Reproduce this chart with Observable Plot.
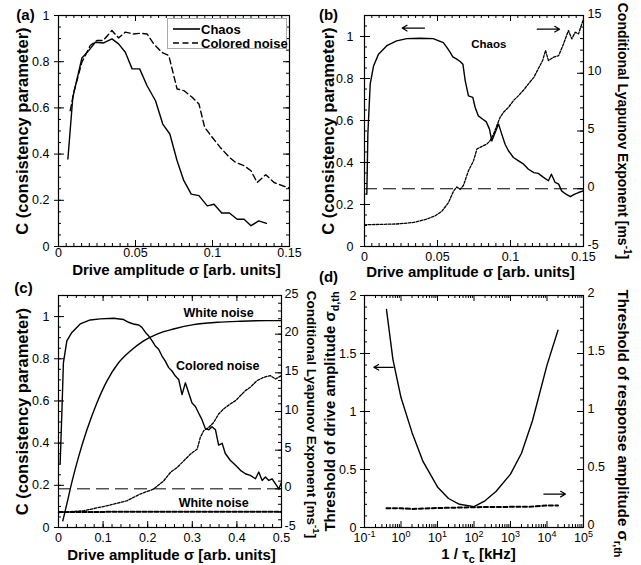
<!DOCTYPE html>
<html><head><meta charset="utf-8">
<script src="https://cdn.jsdelivr.net/npm/d3@7"></script>
<script src="https://cdn.jsdelivr.net/npm/@observablehq/plot@0.6"></script>
<style>
body{margin:0;background:#fff;}
#fig{position:relative;width:641px;height:565px;overflow:hidden;background:#fff;font-family:'Liberation Sans',Arial,Helvetica,sans-serif;}
#fig > svg{position:absolute;}
.leg{position:absolute;left:167px;top:18px;width:118px;height:29px;border:1px solid #aaa;background:#fff;font-weight:bold;font-size:13px;color:#000;}
.leg .row{position:absolute;left:5px;height:14px;display:flex;align-items:center;white-space:nowrap;}
#fig .leg .row svg{position:static;margin-right:1px;display:block;}
</style></head><body><div id="fig"></div>
<script>
// ---------- Panel (a) data ----------
const aChaosSigma = [0.0061,0.0093,0.0152,0.0196,0.0239,0.0293,0.0347,0.039,0.0434,0.0478,0.0527,0.0575,0.063,0.0677,0.0723,0.077,0.0814,0.0862,0.0912,0.0966,0.101,0.106,0.111,0.116,0.1205,0.125,0.130,0.135];
const aChaosC     = [0.379,0.646,0.816,0.848,0.884,0.881,0.899,0.877,0.841,0.769,0.769,0.696,0.631,0.530,0.487,0.371,0.285,0.227,0.220,0.176,0.183,0.145,0.145,0.118,0.118,0.090,0.111,0.100];
const aNoiseSigma = [0.0076,0.0102,0.0152,0.0206,0.025,0.029,0.0347,0.039,0.0434,0.0488,0.053,0.0575,0.0619,0.067,0.0716,0.077,0.0814,0.0868,0.0912,0.0949,0.0998,0.105,0.111,0.115,0.1205,0.125,0.129,0.1346,0.140,0.1455,0.15];
const aNoiseC     = [0.588,0.675,0.798,0.870,0.892,0.892,0.935,0.903,0.928,0.920,0.923,0.920,0.877,0.841,0.827,0.682,0.675,0.646,0.617,0.516,0.473,0.429,0.386,0.364,0.350,0.328,0.277,0.311,0.277,0.263,0.253];

// ---------- Panel (b) data ----------
const bSigma = [0.0016,0.0023,0.0039,0.0062,0.0096,0.0153,0.022,0.029,0.038,0.047,0.054,0.0564,0.0587,0.0605,0.0632,0.0655,0.0674,0.069,0.0712,0.0742,0.0758,0.078,0.081,0.0833,0.0856,0.0872,0.0895,0.0918,0.094,0.0963,0.0986,0.102,0.1055,0.109,0.1123,0.116,0.119,0.1226,0.126,0.128,0.1306,0.133,0.135,0.138,0.141,0.144,0.1466,0.15];
const bC     = [0.249,0.535,0.773,0.860,0.916,0.956,0.979,0.990,0.992,0.990,0.971,0.948,0.924,0.903,0.892,0.881,0.868,0.789,0.717,0.710,0.662,0.622,0.606,0.595,0.559,0.503,0.543,0.583,0.535,0.487,0.456,0.424,0.408,0.392,0.368,0.352,0.348,0.329,0.313,0.344,0.305,0.297,0.265,0.249,0.237,0.249,0.257,0.265];
const bLyapSigma = [0,0.022,0.0336,0.0427,0.0484,0.053,0.0575,0.061,0.0632,0.0655,0.0678,0.0712,0.0747,0.077,0.0792,0.0815,0.0838,0.086,0.0884,0.0906,0.0929,0.0952,0.0986,0.102,0.1055,0.109,0.1123,0.116,0.119,0.122,0.124,0.126,0.1295,0.133,0.1363,0.1397,0.142,0.1443,0.1466,0.15];
const bLyap      = [-3.12,-3.05,-2.92,-2.63,-2.34,-1.95,-1.2,-0.2,0.15,-0.05,0.3,1.56,2.43,3.44,3.58,3.73,3.87,4.16,4.74,5.46,6.18,6.62,7.05,7.63,8.06,8.55,9.08,9.65,10.38,11.1,11.97,11.1,11.39,11.53,12.54,13.7,12.98,13.55,13.41,14.7];
const bArrows = [{x1:0.0411,y1:1.04,x2:0.0258,y2:1.04},{x1:0.1183,y1:1.035,x2:0.1336,y2:1.035}];
const bNotes  = [{s:0.0851,c:0.964,t:"Chaos"}];

// ---------- Panel (c) data ----------
const cColSigma = [0.0037,0.0075,0.011,0.0187,0.030,0.0487,0.071,0.0936,0.1235,0.146,0.157,0.168,0.18,0.187,0.195,0.202,0.21,0.217,0.2245,0.232,0.2395,0.247,0.2545,0.262,0.2695,0.277,0.2844,0.292,0.2994,0.307,0.3144,0.322,0.329,0.337,0.344,0.352,0.359,0.367,0.374,0.385,0.397,0.408,0.419,0.43,0.4416,0.449,0.4566,0.464,0.4716,0.479,0.4865,0.494,0.5];
const cColC     = [0.303,0.542,0.781,0.885,0.925,0.965,0.984,0.989,0.992,0.986,0.973,0.965,0.960,0.949,0.925,0.909,0.885,0.861,0.845,0.813,0.789,0.758,0.742,0.718,0.702,0.630,0.686,0.638,0.590,0.574,0.542,0.510,0.470,0.463,0.478,0.463,0.391,0.399,0.351,0.319,0.295,0.271,0.255,0.247,0.231,0.263,0.223,0.239,0.223,0.231,0.207,0.183,0.215];
const cWhiteSigma = [0.0097,0.0187,0.030,0.045,0.0636,0.086,0.1085,0.1347,0.161,0.191,0.221,0.258,0.303,0.356,0.408,0.468,0.5];
const cWhiteC     = [0.032,0.112,0.215,0.335,0.462,0.590,0.694,0.781,0.837,0.885,0.917,0.941,0.962,0.973,0.978,0.981,0.981];
const cColLyapSigma = [0,0.056,0.1085,0.153,0.183,0.213,0.236,0.251,0.266,0.281,0.296,0.311,0.318,0.3256,0.337,0.348,0.359,0.37,0.385,0.397,0.408,0.419,0.43,0.445,0.46,0.475,0.4865,0.5];
const cColLyap      = [-3.06,-2.84,-2.19,-1.55,-0.68,-0.04,1.04,2.12,2.77,3.63,4.50,5.14,6.65,7.52,7.95,8.59,9.67,10.32,10.97,11.40,12.05,12.7,13.13,13.99,14.42,14.64,14.2,14.64];
const cWhiteLyapSigma = [0,0.1,0.2,0.3,0.4,0.5];
const cWhiteLyap      = [-3.0,-2.98,-2.97,-2.97,-2.96,-2.96];
const cNotes = [{s:0.359,c:1.016,t:"White noise"},{s:0.357,c:0.768,t:"Colored noise"},{s:0.348,c:0.115,t:"White noise"}];

// ---------- Panel (d) data ----------
const dTauInv = [0.4,0.6,1,2,4,10,20,40,100,200,400,1000,2000,4000,10000,20000];
const dDrive  = [1.88,1.45,1.12,0.82,0.57,0.35,0.25,0.20,0.18,0.23,0.31,0.46,0.64,0.92,1.40,1.70];
const dResp   = [0.165,0.165,0.165,0.16,0.163,0.168,0.17,0.172,0.175,0.176,0.177,0.178,0.178,0.18,0.19,0.19];
const dArrows = [{x1:0.611,y1:1.381,x2:0.180,y2:1.381},{x1:8170,y1:0.288,x2:32100,y2:0.288}];

// ---------- Tick labels ----------
const aXTicks = [0,0.05,0.1,0.15];
const cYTicks = [0,0.2,0.4,0.6,0.8,1];
const bRTicks = [-5,0,5,10,15];
const cXTicks = [0,0.1,0.2,0.3,0.4,0.5];
const cRTicks = [-5,0,5,10,15,20,25];
const dXTicks = [0.1,1,10,100,1000,10000,100000];
const dYTicks = [0,0.5,1,1.5,2];
const legendA = ["Chaos","Colored noise"];

// ---------- helpers ----------
const FONT = "'Liberation Sans', Arial, Helvetica, sans-serif";
const NARROW = "'Liberation Sans Narrow', 'Liberation Sans', Arial, sans-serif";
const fmt = d3.format("~g");
const zip = (xs, ys) => xs.map((s, i) => ({s, c: ys[i]}));
const bToC = v => (v + 5) / 20 * 1.1;
const cToC = v => (v + 5) / 30 * 1.1;
const rng = (a, b, st) => d3.range(a, b + st / 2, st);
const fig = document.getElementById("fig");

const T = (s, o) => Plot.text([s], {text: d => d, textAnchor: "middle", lineAnchor: "middle", fill: "black", ...o});

function frameTicks({pw, ph, xMajor, xMinor, yMajor, yMinor, yRMajor, yRMinor}) {
  const M = 6, m = 3, st = {stroke: "black", strokeWidth: 1};
  return [
    Plot.tickY(yMajor, {y: d => d, insetLeft: -4, insetRight: pw - M, ...st}),
    Plot.tickY(yMinor, {y: d => d, insetRight: pw - m, ...st}),
    Plot.tickY(yRMajor, {y: d => d, insetLeft: pw - M, ...st}),
    Plot.tickY(yRMinor, {y: d => d, insetLeft: pw - m, ...st}),
    Plot.tickX(xMajor, {x: d => d, insetTop: ph - M, ...st}),
    Plot.tickX(xMinor, {x: d => d, insetTop: ph - m, ...st}),
    Plot.tickX(xMajor, {x: d => d, insetBottom: ph - M, ...st}),
    Plot.tickX(xMinor, {x: d => d, insetBottom: ph - m, ...st})
  ];
}

function richify(svg) {
  svg.querySelectorAll("text").forEach(t => {
    const s = t.textContent;
    if (!/[\^_]\{/.test(s)) return;
    const fs = parseFloat(getComputedStyle(t).fontSize) || 12;
    const parts = s.split(/([\^_]\{[^}]*\})/).filter(p => p.length);
    while (t.firstChild) t.removeChild(t.firstChild);
    let cur = 0;
    for (const p of parts) {
      let str = p, off = 0, small = false;
      if (p.startsWith("^{")) { str = p.slice(2, -1); off = -0.42 * fs; small = true; }
      else if (p.startsWith("_{")) { str = p.slice(2, -1); off = 0.26 * fs; small = true; }
      const ts = document.createElementNS("http://www.w3.org/2000/svg", "tspan");
      const dy = off - cur; cur = off;
      if (dy) ts.setAttribute("dy", dy.toFixed(2));
      if (small) ts.setAttribute("font-size", (0.72 * fs).toFixed(2));
      ts.textContent = str;
      t.appendChild(ts);
    }
  });
}

function makePanel({left, top, width, height, ml, mr, mt, mb, x, y, marks}) {
  const svg = Plot.plot({
    width, height, marginLeft: ml, marginRight: mr, marginTop: mt, marginBottom: mb,
    x: {...x, label: null}, y: {...y, label: null},
    style: {fontFamily: FONT, fontSize: "12.5px", background: "transparent", overflow: "visible", color: "black"},
    marks
  });
  svg.style.left = left + "px";
  svg.style.top = top + "px";
  fig.appendChild(svg);
  richify(svg);
}

const solid = {stroke: "black", strokeWidth: 1.4, clip: true};
const zeroLine = {stroke: "black", strokeWidth: 1, strokeDasharray: "13,6"};
const dotted = {stroke: "black", strokeWidth: 1.3, strokeDasharray: "2.5,1.5", clip: true};
const boldLab = {fontWeight: "bold", fontSize: 15};
const yLab = "C (consistency parameter)";
const xLab = "Drive amplitude σ [arb. units]";
const rLab = "Conditional Lyapunov Exponent [ms^{-1}]";

// ---------- Panel (a) ----------
makePanel({
  left: 0, top: 0, width: 320, height: 280, ml: 58, mr: 31, mt: 15, mb: 34,
  x: {domain: [0, 0.15]}, y: {domain: [0, 1]},
  marks: [
    ...frameTicks({pw: 231, ph: 231, xMajor: aXTicks, xMinor: rng(0, 0.15, 0.005),
      yMajor: cYTicks, yMinor: rng(0, 1, 0.05), yRMajor: cYTicks, yRMinor: rng(0, 1, 0.05)}),
    Plot.frame({stroke: "black", strokeWidth: 1.2}),
    Plot.axisX(aXTicks, {tickSize: 0, tickPadding: 2, tickFormat: fmt, label: null}),
    Plot.axisY(cYTicks, {anchor: "left", tickSize: 0, tickPadding: 9, tickFormat: fmt, label: null}),
    Plot.line(zip(aChaosSigma, aChaosC), {x: "s", y: "c", ...solid}),
    Plot.line(zip(aNoiseSigma, aNoiseC), {x: "s", y: "c", ...solid, strokeDasharray: "6,3.5"}),
    T("(a)", {frameAnchor: "top-left", dx: -33, dy: 0, ...boldLab}),
    T(yLab, {frameAnchor: "left", rotate: -90, dx: -36, fontWeight: "bold", fontSize: 16.5}),
    T(xLab, {frameAnchor: "bottom", dx: 2.5, dy: 24, ...boldLab})
  ]
});

// legend for (a)
{
  const leg = document.createElement("div");
  leg.className = "leg";
  const dashes = ["", "6,3.5"];
  legendA.forEach((name, i) => {
    const row = document.createElement("div");
    row.className = "row";
    row.style.top = (i === 0 ? 3 : 17) + "px";
    row.innerHTML = `<svg width="27" height="6"><line x1="0" y1="3" x2="27" y2="3" stroke="black" stroke-width="1.6" ${dashes[i] ? `stroke-dasharray="${dashes[i]}"` : ""}/></svg><span>${name}</span>`;
    leg.appendChild(row);
  });
  fig.appendChild(leg);
}

// ---------- Panel (b) ----------
makePanel({
  left: 320, top: 0, width: 321, height: 280, ml: 44, mr: 58, mt: 15, mb: 34,
  x: {domain: [0, 0.15]}, y: {domain: [0, 1.1]},
  marks: [
    ...frameTicks({pw: 219, ph: 231, xMajor: aXTicks, xMinor: rng(0, 0.15, 0.005),
      yMajor: cYTicks, yMinor: rng(0, 1.1, 0.05), yRMajor: bRTicks.map(bToC), yRMinor: rng(-5, 15, 1).map(bToC)}),
    Plot.frame({stroke: "black", strokeWidth: 1.2}),
    Plot.axisX(aXTicks, {tickSize: 0, tickPadding: 6, tickFormat: fmt, label: null}),
    Plot.axisY(cYTicks, {anchor: "left", tickSize: 0, tickPadding: 11, tickFormat: fmt, label: null}),
    Plot.axisY(bRTicks.map(bToC), {anchor: "right", tickSize: 0, tickPadding: 4, label: null, dy: -2,
      tickFormat: c => String(Math.round(c / 1.1 * 20 - 5))}),
    Plot.ruleY([bToC(0)], zeroLine),
    Plot.line(zip(bLyapSigma, bLyap.map(bToC)), {x: "s", y: "c", ...dotted}),
    Plot.line(zip(bSigma, bC), {x: "s", y: "c", ...solid}),
    Plot.arrow(bArrows, {x1: "x1", y1: "y1", x2: "x2", y2: "y2", stroke: "black", strokeWidth: 1.2, headLength: 7}),
    Plot.text(bNotes, {x: "s", y: "c", text: "t", fontWeight: "bold", fontSize: 11.5, fill: "black"}),
    T("(b)", {frameAnchor: "top-left", dx: -36, dy: 0, ...boldLab}),
    T(yLab, {frameAnchor: "left", rotate: -90, dx: -36, fontWeight: "bold", fontSize: 16.5}),
    T(rLab, {frameAnchor: "right", rotate: 90, dx: 39, fontWeight: "bold", fontSize: 14, fontFamily: NARROW}),
    T(xLab, {frameAnchor: "bottom", dx: -3.5, dy: 26, ...boldLab})
  ]
});

// ---------- Panel (c) ----------
makePanel({
  left: 0, top: 265, width: 320, height: 300, ml: 58, mr: 39, mt: 30, mb: 38,
  x: {domain: [0, 0.5]}, y: {domain: [0, 1.1]},
  marks: [
    ...frameTicks({pw: 223, ph: 232, xMajor: cXTicks, xMinor: rng(0, 0.5, 0.02),
      yMajor: cYTicks, yMinor: rng(0, 1.1, 0.05), yRMajor: cRTicks.map(cToC), yRMinor: rng(-5, 25, 1).map(cToC)}),
    Plot.frame({stroke: "black", strokeWidth: 1.2}),
    Plot.axisX(cXTicks, {tickSize: 0, tickPadding: 6, tickFormat: fmt, label: null}),
    Plot.axisY(cYTicks, {anchor: "left", tickSize: 0, tickPadding: 9, tickFormat: fmt, label: null}),
    Plot.axisY(cRTicks.map(cToC), {anchor: "right", tickSize: 0, tickPadding: 3, label: null, dy: -2,
      tickFormat: c => String(Math.round(c / 1.1 * 30 - 5))}),
    Plot.ruleY([cToC(0)], zeroLine),
    Plot.line(zip(cWhiteLyapSigma, cWhiteLyap.map(cToC)), {x: "s", y: "c", stroke: "black", strokeWidth: 2, strokeDasharray: "4,2", clip: true}),
    Plot.line(zip(cColLyapSigma, cColLyap.map(cToC)), {x: "s", y: "c", ...dotted}),
    Plot.line(zip(cWhiteSigma, cWhiteC), {x: "s", y: "c", ...solid, curve: "monotone-x"}),
    Plot.line(zip(cColSigma, cColC), {x: "s", y: "c", ...solid}),
    Plot.text(cNotes, {x: "s", y: "c", text: "t", fontWeight: "bold", fontSize: 12.5, fill: "black"}),
    T("(c)", {frameAnchor: "top-left", dx: -35, dy: -7, ...boldLab}),
    T(yLab, {frameAnchor: "left", rotate: -90, dx: -36, fontWeight: "bold", fontSize: 16.5}),
    T(rLab, {frameAnchor: "right", rotate: 90, dx: 30, dy: 3, fontWeight: "bold", fontSize: 13.5, fontFamily: NARROW}),
    T(xLab, {frameAnchor: "bottom", dx: 1.5, dy: 28, ...boldLab})
  ]
});

// ---------- Panel (d) ----------
const dXMinor = [];
for (let e = -1; e <= 4; e++) for (let k = 2; k <= 9; k++) dXMinor.push(k * Math.pow(10, e));
makePanel({
  left: 320, top: 265, width: 321, height: 300, ml: 44, mr: 58, mt: 30, mb: 38,
  x: {type: "log", domain: [0.1, 1e5]}, y: {domain: [0, 2]},
  marks: [
    ...frameTicks({pw: 219, ph: 232, xMajor: dXTicks, xMinor: dXMinor,
      yMajor: dYTicks, yMinor: rng(0, 2, 0.1), yRMajor: dYTicks, yRMinor: rng(0, 2, 0.1)}),
    Plot.frame({stroke: "black", strokeWidth: 1.2}),
    Plot.axisX(dXTicks, {tickSize: 0, tickPadding: 6, label: null,
      tickFormat: d => `10^{${Math.round(Math.log10(d))}}`}),
    Plot.axisY(dYTicks, {anchor: "left", tickSize: 0, tickPadding: 8, tickFormat: fmt, label: null}),
    Plot.axisY(dYTicks, {anchor: "right", tickSize: 0, tickPadding: 4, dy: -3, tickFormat: fmt, label: null}),
    Plot.line(zip(dTauInv, dResp), {x: "s", y: "c", stroke: "black", strokeWidth: 2, strokeDasharray: "4,2.5"}),
    Plot.line(zip(dTauInv, dDrive), {x: "s", y: "c", ...solid}),
    Plot.arrow(dArrows, {x1: "x1", y1: "y1", x2: "x2", y2: "y2", stroke: "black", strokeWidth: 1.2, headLength: 7}),
    T("(d)", {frameAnchor: "top-left", dx: -36, dy: -18, ...boldLab}),
    T("Threshold of drive amplitude σ_{d,th}", {frameAnchor: "left", rotate: -90, dx: -34, ...boldLab}),
    T("Threshold of response amplitude σ_{r,th}", {frameAnchor: "right", rotate: 90, dx: 39, dy: 12, ...boldLab}),
    T("1 / τ_{c} [kHz]", {frameAnchor: "bottom", dx: 4.5, dy: 26.5, ...boldLab})
  ]
});
</script></body></html>
